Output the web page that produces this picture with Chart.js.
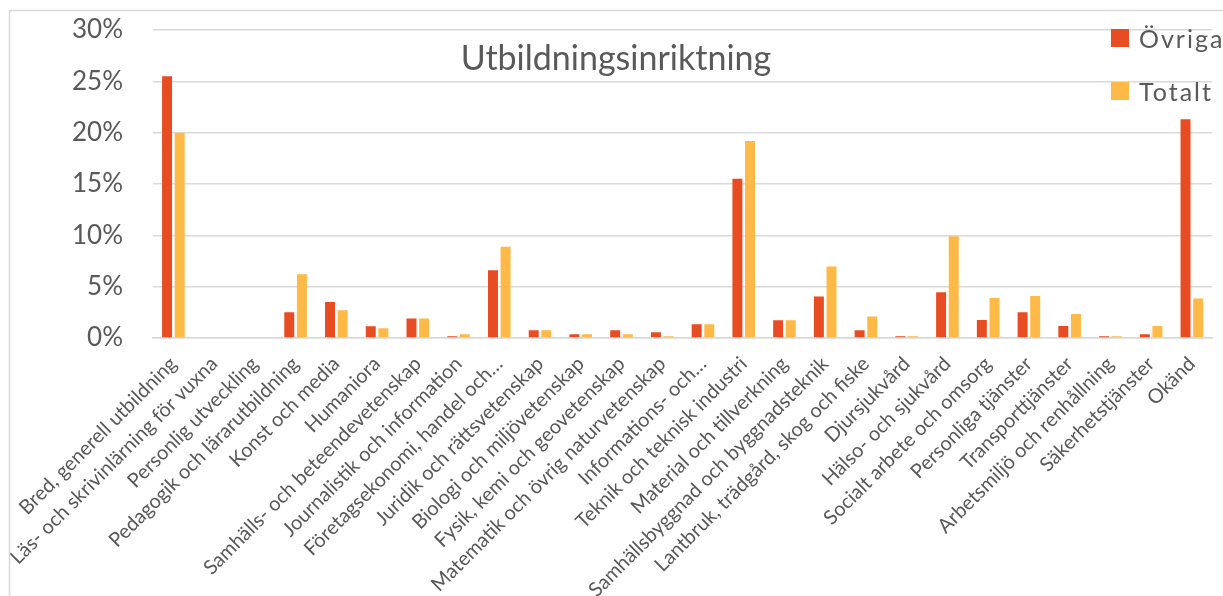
<!DOCTYPE html>
<html>
<head>
<meta charset="utf-8">
<script src="https://cdn.jsdelivr.net/npm/chart.js@4.4.1/dist/chart.umd.min.js"></script>
<style>
html,body{margin:0;padding:0;background:#fff;}
#wrap{position:relative;width:1223px;height:596px;}
</style>
</head>
<body>
<div id="wrap"><canvas id="c" width="1223" height="596"></canvas></div>
<script>
const categories = [
  "Bred, generell utbildning",
  "Läs- och skrivinlärning för vuxna",
  "Personlig utveckling",
  "Pedagogik och lärarutbildning",
  "Konst och media",
  "Humaniora",
  "Samhälls- och beteendevetenskap",
  "Journalistik och information",
  "Företagsekonomi, handel och…",
  "Juridik och rättsvetenskap",
  "Biologi och miljövetenskap",
  "Fysik, kemi och geovetenskap",
  "Matematik och övrig naturvetenskap",
  "Informations- och…",
  "Teknik och teknisk industri",
  "Material och tillverkning",
  "Samhällsbyggnad och byggnadsteknik",
  "Lantbruk, trädgård, skog och fiske",
  "Djursjukvård",
  "Hälso- och sjukvård",
  "Socialt arbete och omsorg",
  "Personliga tjänster",
  "Transporttjänster",
  "Arbetsmiljö och renhållning",
  "Säkerhetstjänster",
  "Okänd"
];
const ovriga = [25.5, 0, 0, 2.5, 3.5, 1.15, 1.9, 0.17, 6.6, 0.75, 0.36, 0.75, 0.55, 1.33, 15.5, 1.72, 4.05, 0.75, 0.17, 4.45, 1.75, 2.5, 1.17, 0.17, 0.36, 21.3];
const totalt = [20.0, 0, 0, 6.2, 2.7, 0.95, 1.9, 0.36, 8.9, 0.75, 0.36, 0.36, 0.17, 1.33, 19.2, 1.72, 6.96, 2.1, 0.17, 9.9, 3.9, 4.08, 2.33, 0.17, 1.17, 3.85];
const yTicks = [0, 5, 10, 15, 20, 25, 30];
const seriesNames = ["Övriga", "Totalt"];
const colors = ["#E84C22", "#FFB946"];
const titleText = "Utbildningsinriktning";

const FONT = "Lato, 'Open Sans', sans-serif";
const TXT = "#595959";

const overlay = {
  id: 'overlay',
  afterDraw(chart) {
    const ctx = chart.ctx;
    ctx.save();
    // outer border
    ctx.strokeStyle = "#D9D9D9";
    ctx.lineWidth = 1.5;
    ctx.strokeRect(9.5, 10.5, 1400, 800);
    // title
    ctx.fillStyle = TXT;
    ctx.font = "34px " + FONT;
    ctx.textAlign = "center";
    ctx.textBaseline = "alphabetic";
    ctx.fillText(titleText, 616, 70);
    // legend
    ctx.font = "25px " + FONT;
    try { ctx.letterSpacing = "2px"; } catch (e) {}
    ctx.textAlign = "left";
    const ly = [38, 91];
    for (let i = 0; i < seriesNames.length; i++) {
      ctx.fillStyle = colors[i];
      ctx.fillRect(1111, ly[i] - 9, 18, 18);
      ctx.fillStyle = TXT;
      ctx.fillText(seriesNames[i], 1139, ly[i] + 10);
    }
    ctx.restore();
  }
};

new Chart(document.getElementById('c'), {
  type: 'bar',
  data: {
    labels: categories,
    datasets: [
      { label: seriesNames[0], data: ovriga, backgroundColor: colors[0] },
      { label: seriesNames[1], data: totalt, backgroundColor: colors[1] }
    ]
  },
  options: {
    responsive: false,
    animation: false,
    devicePixelRatio: 1,
    layout: { padding: { top: 30, right: 9, left: 0, bottom: 0 } },
    datasets: { bar: { categoryPercentage: 0.62, barPercentage: 0.79 } },
    plugins: { legend: { display: false }, title: { display: false }, tooltip: { enabled: false } },
    scales: {
      x: {
        grid: { display: false, drawTicks: false },
        border: { display: true, color: "#D9D9D9", width: 1.5 },
        ticks: {
          autoSkip: false, maxRotation: 45, minRotation: 45, padding: 14,
          color: TXT, font: { family: FONT, size: 20 }
        },
        afterFit(s) { s.height = 258; }
      },
      y: {
        min: 0, max: 30,
        afterBuildTicks(s) { s.ticks = yTicks.map(v => ({ value: v })); },
        grid: { color: "#D9D9D9", lineWidth: 1.5, drawTicks: false },
        border: { display: false },
        ticks: {
          padding: 30, color: TXT, font: { family: FONT, size: 26 },
          callback: v => v + "%"
        },
        afterFit(s) { s.width = 153; s.paddingTop = 0; s.paddingBottom = 0; }
      }
    }
  },
  plugins: [overlay]
});
</script>
</body>
</html>
